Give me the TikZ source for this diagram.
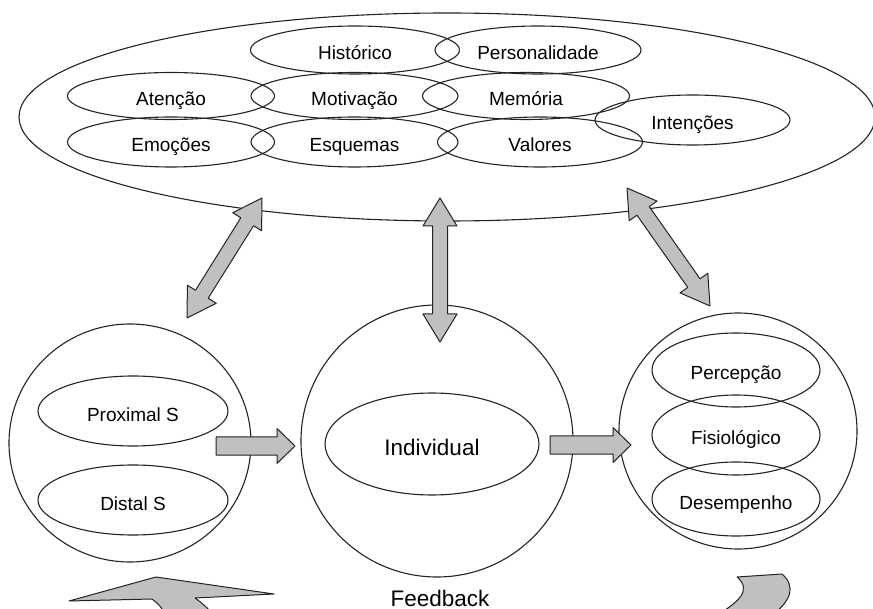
\documentclass[tikz,border=0pt]{standalone}
\usepackage{fontspec}
\setmainfont{Liberation Sans}
\usetikzlibrary{shapes.geometric,calc}
\definecolor{arrgray}{RGB}{192,192,192}
\definecolor{inkgray}{RGB}{35,35,35}
% block arrows between two points
\newcommand\dblarrow[2]{\filldraw[blockarr] (#1)
  -- ($(#1)!28pt!(#2)!17pt!90:(#2)$) -- ($(#1)!28pt!(#2)!7.5pt!90:(#2)$)
  -- ($(#2)!28pt!(#1)!7.5pt!-90:(#1)$) -- ($(#2)!28pt!(#1)!17pt!-90:(#1)$)
  -- (#2) -- ($(#2)!28pt!(#1)!17pt!90:(#1)$) -- ($(#2)!28pt!(#1)!7.5pt!90:(#1)$)
  -- ($(#1)!28pt!(#2)!7.5pt!-90:(#2)$) -- ($(#1)!28pt!(#2)!17pt!-90:(#2)$) -- cycle;}
\newcommand\sglarrow[2]{\filldraw[blockarr] ($(#1)!9pt!90:(#2)$)
  -- ($(#2)!18pt!(#1)!9pt!-90:(#1)$) -- ($(#2)!18pt!(#1)!17.5pt!-90:(#1)$)
  -- (#2) -- ($(#2)!18pt!(#1)!17.5pt!90:(#1)$) -- ($(#2)!18pt!(#1)!9pt!90:(#1)$)
  -- ($(#1)!9pt!-90:(#2)$) -- cycle;}
\begin{document}
\begin{tikzpicture}[x=1pt,y=-1pt,line join=round,
  group/.style={draw=inkgray,ellipse,inner sep=0pt,line width=1.1pt},
  item/.style={group,text height=24pt,text depth=4pt,font=\fontsize{19}{22}\selectfont},
  blockarr/.style={fill=arrgray,draw=inkgray,line width=1pt}]
\useasboundingbox (0,0) rectangle (873,609);
% upper group
\node[group,minimum width=856pt,minimum height=208pt] (ctx) at (447,117) {};
\node[item,minimum width=209pt,minimum height=48pt] (hist) at (355,50) {Histórico};
\node[item,minimum width=206pt,minimum height=48pt] (pers) at (538,50) {Personalidade};
\node[item,minimum width=207pt,minimum height=47pt] (aten) at (171,96) {Atenção};
\node[item,minimum width=207pt,minimum height=47pt] (moti) at (354.5,96) {Motivação};
\node[item,minimum width=207pt,minimum height=47pt] (memo) at (526,96) {Memória};
\node[item,minimum width=207pt,minimum height=50pt] (emoc) at (171,142) {Emoções};
\node[item,minimum width=207pt,minimum height=50pt] (esqu) at (354.5,142) {Esquemas};
\node[item,minimum width=205pt,minimum height=50pt] (valo) at (540,142) {Valores};
\node[item,minimum width=195pt,minimum height=50pt] (inte) at (692.5,120) {Intenções};
% stimuli
\node[group,minimum width=242pt,minimum height=238pt] (stim) at (130,443) {};
\node[item,minimum width=190pt,minimum height=70pt] (prox) at (133,411) {Proximal S};
\node[item,minimum width=190pt,minimum height=70pt] (dist) at (133,500) {Distal S};
% individual
\node[group,minimum width=272pt,minimum height=272pt] (ind) at (437,441) {};
\node[item,minimum width=214pt,minimum height=102pt,text height=28pt,text depth=5pt,
  font=\fontsize{22.5}{27}\selectfont] (indiv) at (432,444) {Individual};
% responses
\node[group,minimum width=238pt,minimum height=236pt] (resp) at (738,431) {};
\node[item,minimum width=168pt,minimum height=74pt] (perc) at (736,370) {Percepção};
\node[item,minimum width=168pt,minimum height=80pt] (fisi) at (736,435) {Fisiológico};
\node[item,minimum width=168pt,minimum height=74pt] (dese) at (736,499) {Desempenho};
% arrows
\coordinate (u1) at (262,198); \coordinate (d1) at (187,318);
\coordinate (u2) at (440,198); \coordinate (d2) at (440,342);
\coordinate (u3) at (627,188); \coordinate (d3) at (710,306);
\coordinate (s1) at (216,446); \coordinate (t1) at (295,446);
\coordinate (s2) at (550,445); \coordinate (t2) at (631,445);
\dblarrow{d1}{u1}
\dblarrow{d2}{u2}
\dblarrow{d3}{u3}
\sglarrow{s1}{t1}
\sglarrow{s2}{t2}
% feedback
\filldraw[blockarr] (69,601) -- (156,577) -- (274,594) -- (195,598)
  .. controls (202,603) and (208,608) .. (214,616) -- (166,616)
  .. controls (162,608) and (158,603) .. (152,599) -- cycle;
\filldraw[blockarr] (737,577) -- (782,574) .. controls (796,586) and (792,602) .. (768,618)
  -- (712,618) .. controls (740,602) and (752,590) .. (737,577) -- cycle;
\node[font=\fontsize{22.5}{27}\selectfont,anchor=base] (fb) at (440,606.5) {Feedback};
\end{tikzpicture}
\end{document}
